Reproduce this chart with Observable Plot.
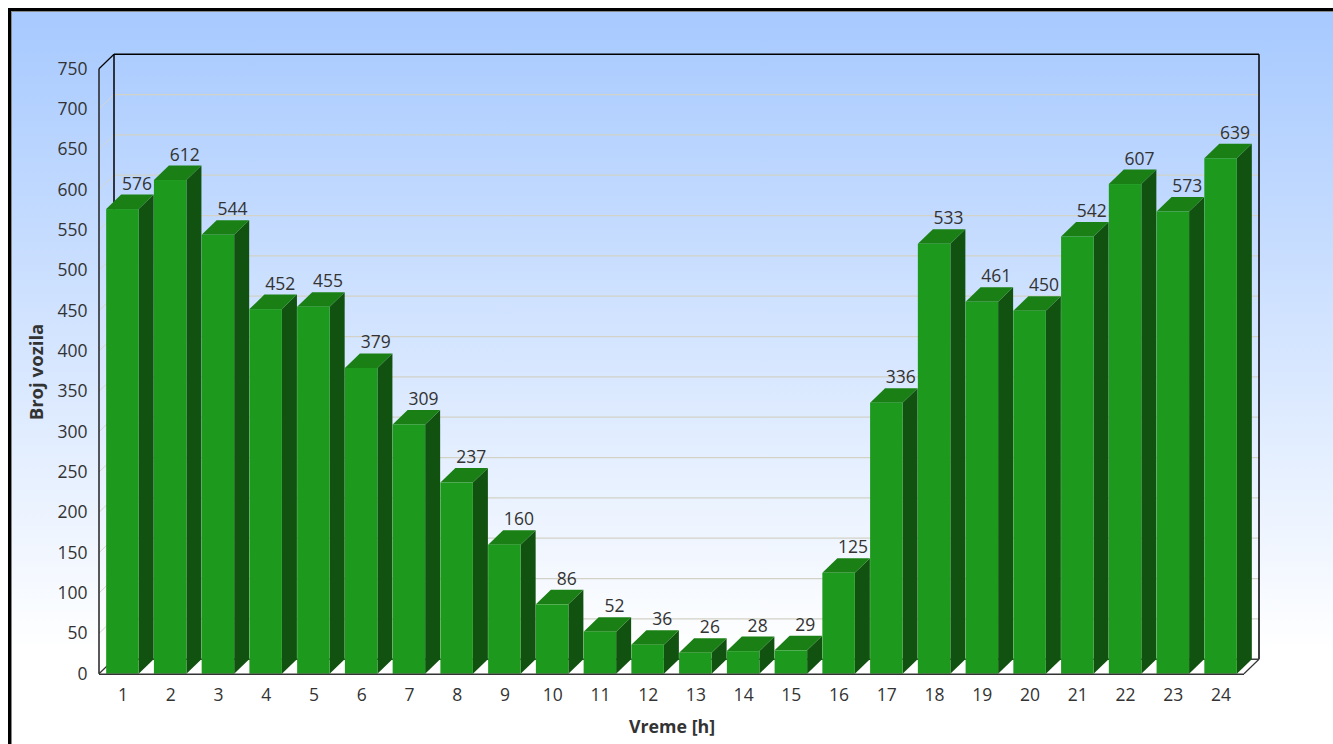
<!DOCTYPE html>
<html><head><meta charset="utf-8">
<script src="https://cdn.jsdelivr.net/npm/d3@7"></script>
<script src="https://cdn.jsdelivr.net/npm/@observablehq/plot@0.6"></script>
<style>
html,body{margin:0;padding:0;background:#fff;overflow:hidden;width:1333px;height:744px}
#box{position:absolute;left:8px;top:8px;width:1340px;height:760px;box-sizing:border-box;border:3px solid #000;
 box-shadow:inset 1px 1px 0 #888;
 background:linear-gradient(180deg,#a8caff 0,#a8caff 12px,#ffffff 640px,#ffffff 100%);overflow:hidden}
#box svg{position:absolute;left:-11px;top:-11px;background:transparent;font-family:"Open Sans",sans-serif}
[aria-label="x-axis label"]{font-weight:bold;font-size:17.8px}
[aria-label="y-axis label"]{font-weight:bold;font-size:18.6px}
</style></head><body><div id="box"></div>
<script>
const hours = ["1","2","3","4","5","6","7","8","9","10","11","12","13","14","15","16","17","18","19","20","21","22","23","24"];
const vehicles = [576,612,544,452,455,379,309,237,160,86,52,36,26,28,29,125,336,533,461,450,542,607,573,639];
const yTicks = [0,50,100,150,200,250,300,350,400,450,500,550,600,650,700,750];
const frontColor = "#1d9a1d", sideColor = "#115210", topColor = "#1a8015";
const depthX = 15, depthY = -14.5;
const rows = hours.map((h,i)=>({h, v:vehicles[i]}));

function poly(parent, pts, attrs){
  const p = document.createElementNS("http://www.w3.org/2000/svg","polygon");
  p.setAttribute("points", pts.map(d=>d.join(",")).join(" "));
  for (const k in attrs) p.setAttribute(k, attrs[k]);
  parent.appendChild(p);
}
function line(parent, a, b, stroke, w){
  const l = document.createElementNS("http://www.w3.org/2000/svg","line");
  l.setAttribute("x1",a[0]);l.setAttribute("y1",a[1]);l.setAttribute("x2",b[0]);l.setAttribute("y2",b[1]);
  l.setAttribute("stroke",stroke);l.setAttribute("stroke-width",w);
  parent.appendChild(l);
}
const room = (index, {x, y}, values, {marginLeft:l, width, marginRight}) => {
  const g = document.createElementNS("http://www.w3.org/2000/svg","g");
  const r = width - marginRight;
  for (const t of yTicks.slice(1,-1)) {
    line(g,[l,y(t)],[l+depthX,y(t)+depthY],"#d6d6cc",1);
    line(g,[l+depthX,y(t)+depthY],[r+depthX,y(t)+depthY],"#d2d2c6",1.2);
  }
  const y0=y(0), y1=y(750);
  line(g,[l+depthX,y1+depthY],[r+depthX,y1+depthY],"#000",1.5);
  line(g,[r+depthX,y1+depthY],[r+depthX,y0+depthY],"#000",1.5);
  line(g,[l+depthX,y1+depthY],[l+depthX,y0+depthY],"#000",1.5);
  line(g,[l,y1],[l+depthX,y1+depthY],"#000",1.2);
  line(g,[l,y1],[l,y0],"#222",1.5);
  line(g,[l+depthX,y0+depthY],[r+depthX,y0+depthY],"#444",1.5);
  line(g,[l,y0],[l+depthX,y0+depthY],"#333",1.2);
  line(g,[r,y0],[r+depthX,y0+depthY],"#333",1.2);
  return g;
};
const faces = (index, {x, y}) => {
  const g = document.createElementNS("http://www.w3.org/2000/svg","g");
  const bw = x.bandwidth();
  for (const d of rows) {
    const a = x(d.h), b = a + bw, t = y(d.v), z = y(0);
    poly(g,[[b,z],[b+depthX,z+depthY],[b+depthX,t+depthY],[b,t]],{fill:sideColor});
    poly(g,[[a,t],[b,t],[b+depthX,t+depthY],[a+depthX,t+depthY]],{fill:topColor});
  }
  return g;
};
const chart = Plot.plot({
  width:1333, height:744,
  marginLeft:99, marginRight:89, marginTop:69, marginBottom:70,
  style:{background:"transparent", fontFamily:"'Open Sans',sans-serif", color:"#333"},
  x:{domain:hours, paddingInner:0.319, paddingOuter:0.15, round:false},
  y:{domain:[0,750], range:[673.7,68.7]},
  marks:[
    room,
    faces,
    Plot.barY(rows,{x:"h", y:"v", fill:frontColor}),
    Plot.text(rows,{x:"h", y:"v", text:d=>String(d.v), dx:depthX-1, dy:depthY-5.5, lineAnchor:"bottom", fontSize:17.5, fill:"#333"}),
    Plot.ruleY([0],{stroke:"#333", strokeWidth:1.5}),
    Plot.axisX({tickSize:0, tickPadding:14, fontSize:17.5, label:"Vreme [h]", labelAnchor:"center", labelOffset:58, labelArrow:"none", fill:"#333"}),
    Plot.axisY({ticks:yTicks, tickSize:0, tickPadding:12, fontSize:17.5, tickFormat:d=>String(d), label:"Broj vozila", labelAnchor:"center", labelOffset:70, labelArrow:"none", fill:"#333"})
  ]
});
document.getElementById("box").appendChild(chart);
</script></body></html>
